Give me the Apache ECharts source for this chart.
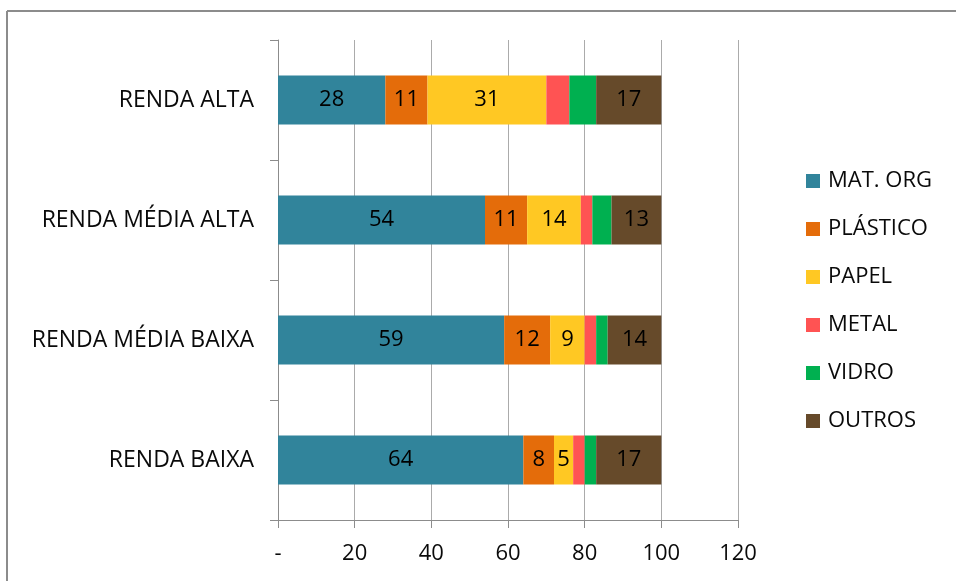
<!DOCTYPE html>
<html>
<head>
<meta charset="utf-8">
<script src="https://cdn.jsdelivr.net/npm/echarts@6/dist/echarts.min.js"></script>
<style>
  html, body { margin: 0; padding: 0; background: #fff; }
  #chart { width: 956px; height: 581px; }
</style>
</head>
<body>
<div id="chart"></div>
<script>
// Composição dos resíduos por faixa de renda (%)
const categories = ['RENDA ALTA', 'RENDA MÉDIA ALTA', 'RENDA MÉDIA BAIXA', 'RENDA BAIXA'];
const matOrg   = [28, 54, 59, 64];
const plastico = [11, 11, 12, 8];
const papel    = [31, 14, 9, 5];
const metal    = [6, 3, 3, 3];
const vidro    = [7, 5, 3, 3];
const outros   = [17, 13, 14, 17];
const xTicks   = [0, 20, 40, 60, 80, 100, 120];

const FONT = '"Open Sans", "Noto Sans", sans-serif';
const TEXT = '#0a0a0a';
const seriesDefs = [
  { name: 'MAT. ORG', data: matOrg,   color: '#31849B', label: true },
  { name: 'PLÁSTICO', data: plastico, color: '#E46C0A', label: true },
  { name: 'PAPEL',    data: papel,    color: '#FFC823', label: true },
  { name: 'METAL',    data: metal,    color: '#FF5353', label: false },
  { name: 'VIDRO',    data: vidro,    color: '#00B050', label: false },
  { name: 'OUTROS',   data: outros,   color: '#664A2A', label: true }
];

const chart = echarts.init(document.getElementById('chart'), null, { renderer: 'canvas' });

chart.setOption({
  animation: false,
  backgroundColor: '#fff',
  textStyle: { fontFamily: FONT },
  graphic: [
    { type: 'line', shape: { x1: 7, y1: 11, x2: 956, y2: 11 }, style: { stroke: '#8c8c8c', lineWidth: 2 } },
    { type: 'line', shape: { x1: 7, y1: 11, x2: 7, y2: 581 }, style: { stroke: '#8c8c8c', lineWidth: 2 } }
  ],
  grid: { left: 278, top: 40, width: 460, height: 480, containLabel: false },
  legend: {
    orient: 'vertical',
    left: 806,
    top: 170,
    padding: 0,
    itemWidth: 14,
    itemHeight: 14,
    itemGap: 26,
    icon: 'rect',
    textStyle: { fontFamily: FONT, fontSize: 22, color: TEXT, padding: [0, 0, 0, 3] },
    data: seriesDefs.map(s => s.name)
  },
  xAxis: {
    type: 'value',
    min: xTicks[0],
    max: xTicks[xTicks.length - 1],
    interval: 20,
    axisLine: { show: true, lineStyle: { color: '#8c8c8c', width: 1 } },
    axisTick: { show: true, length: 8, lineStyle: { color: '#8c8c8c' } },
    axisLabel: {
      margin: 23,
      fontFamily: FONT,
      fontSize: 22,
      color: TEXT,
      formatter: v => (v === 0 ? '-' : String(v))
    },
    splitLine: { show: true, lineStyle: { color: '#ababab', width: 1 } }
  },
  yAxis: {
    type: 'category',
    inverse: true,
    data: categories,
    axisLine: { show: true, lineStyle: { color: '#8c8c8c', width: 1 } },
    axisTick: { show: true, length: 8, interval: 0, lineStyle: { color: '#8c8c8c' } },
    axisLabel: { margin: 24, fontFamily: FONT, fontSize: 23, color: TEXT },
    splitLine: { show: false }
  },
  series: seriesDefs.map(s => ({
    name: s.name,
    type: 'bar',
    stack: 'total',
    barWidth: 49,
    data: s.data,
    itemStyle: { color: s.color },
    label: {
      show: s.label,
      position: 'inside',
      fontFamily: FONT,
      fontSize: 22,
      color: '#000'
    }
  }))
});
</script>
</body>
</html>
